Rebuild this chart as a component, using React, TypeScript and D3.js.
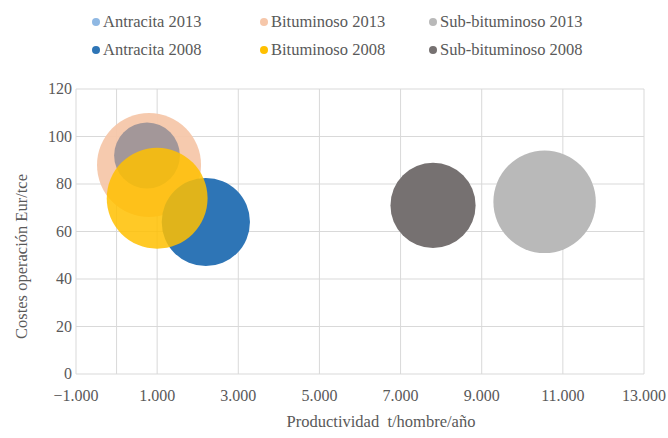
import React from 'react';
import * as d3 from 'd3';

// series: name, x (t/hombre/año), y (Eur/tce), size
const seriesNames = ['Antracita 2013', 'Bituminoso 2013', 'Sub-bituminoso 2013', 'Antracita 2008', 'Bituminoso 2008', 'Sub-bituminoso 2008'];
const seriesColors = ['#8fb8e3', '#f6c7aa', '#b9b9b9', '#2e75b6', '#ffc000', '#767171'];

// bubbles in drawing order
const bubbleSeries = ['Bituminoso 2013', 'Sub-bituminoso 2008', 'Antracita 2008', 'Bituminoso 2008', 'Sub-bituminoso 2008', 'Sub-bituminoso 2013'];
const bubbleX = [800, 750, 2200, 1000, 7800, 10550];
const bubbleY = [88, 92, 64, 74, 71, 72.5];
const bubbleSize = [100, 40, 72, 94, 67, 97];
const bubbleFill = ['#f6c7aa', '#9a9197', '#2e75b6', '#ffc000', '#767171', '#b9b9b9'];
const bubbleOpacity = [0.95, 0.9, 1, 0.85, 1, 1];

const xTicks = [-1000, 1000, 3000, 5000, 7000, 9000, 11000, 13000];
const yTicks = [0, 20, 40, 60, 80, 100, 120];

const W = 668;
const H = 438;
const margin = { top: 89, right: 24, bottom: 64, left: 76 };
const textColor = '#595959';
const txt = { fontFamily: '"Liberation Serif", "Times New Roman", Tinos, "DejaVu Serif", serif' };

const fmt = (v: number) => d3.format(',')(v).replace(/,/g, '.');

export default function App() {
  const x = d3.scaleLinear().domain([-1000, 13000]).range([margin.left, W - margin.right]);
  const y = d3.scaleLinear().domain([0, 120]).range([H - margin.bottom, margin.top]);
  const r = d3.scaleSqrt().domain([0, d3.max(bubbleSize) as number]).range([0, 52]);

  const legendCols = [96, 264, 433];
  const legendRows = [22, 50];

  return (
    <svg width={W} height={H} style={{ position: 'absolute', left: 0, top: 0, background: '#fff', ...txt }}>
      {/* legend */}
      {seriesNames.map((name, i) => {
        const cx = legendCols[i % 3];
        const cy = legendRows[Math.floor(i / 3)];
        return (
          <g key={name}>
            <circle cx={cx} cy={cy} r={4} fill={seriesColors[i]} />
            <text x={cx + 7} y={cy + 5} style={txt} fontSize={16.5} fill={textColor}>{name}</text>
          </g>
        );
      })}

      {/* grid */}
      {yTicks.map(t => (
        <line key={'gy' + t} x1={x(-1000)} x2={x(13000)} y1={y(t)} y2={y(t)} stroke="#d9d9d9" strokeWidth={1} />
      ))}
      {xTicks.map(t => (
        <line key={'gx' + t} x1={x(t)} x2={x(t)} y1={y(0)} y2={y(120)} stroke="#d9d9d9" strokeWidth={1} />
      ))}
      <line x1={x(0)} x2={x(0)} y1={y(0)} y2={y(120)} stroke="#d9d9d9" strokeWidth={1} />

      {/* bubbles */}
      {bubbleX.map((v, i) => (
        <circle key={'b' + i} cx={x(v)} cy={y(bubbleY[i])} r={r(bubbleSize[i])}
          fill={bubbleFill[i]} fillOpacity={bubbleOpacity[i]}>
          <title>{bubbleSeries[i]}</title>
        </circle>
      ))}

      {/* tick labels */}
      {yTicks.map(t => (
        <text key={'ty' + t} x={x(-1000) - 4} y={y(t) + 5} textAnchor="end" style={txt} fontSize={16} fill={textColor}>{t}</text>
      ))}
      {xTicks.map(t => (
        <text key={'tx' + t} x={x(t)} y={y(0) + 27} textAnchor="middle" style={txt} fontSize={16} fill={textColor}>{fmt(t)}</text>
      ))}

      {/* axis titles */}
      <text x={381} y={427} textAnchor="middle" style={{ ...txt, whiteSpace: 'pre' }} fontSize={16.5} fill={textColor}>
        {'Productividad  t/hombre/año'}
      </text>
      <text transform={`translate(27,${(y(0) + y(120)) / 2 + 25}) rotate(-90)`} textAnchor="middle" style={txt} fontSize={16.5} fill={textColor}>
        Costes operación Eur/tce
      </text>
    </svg>
  );
}
